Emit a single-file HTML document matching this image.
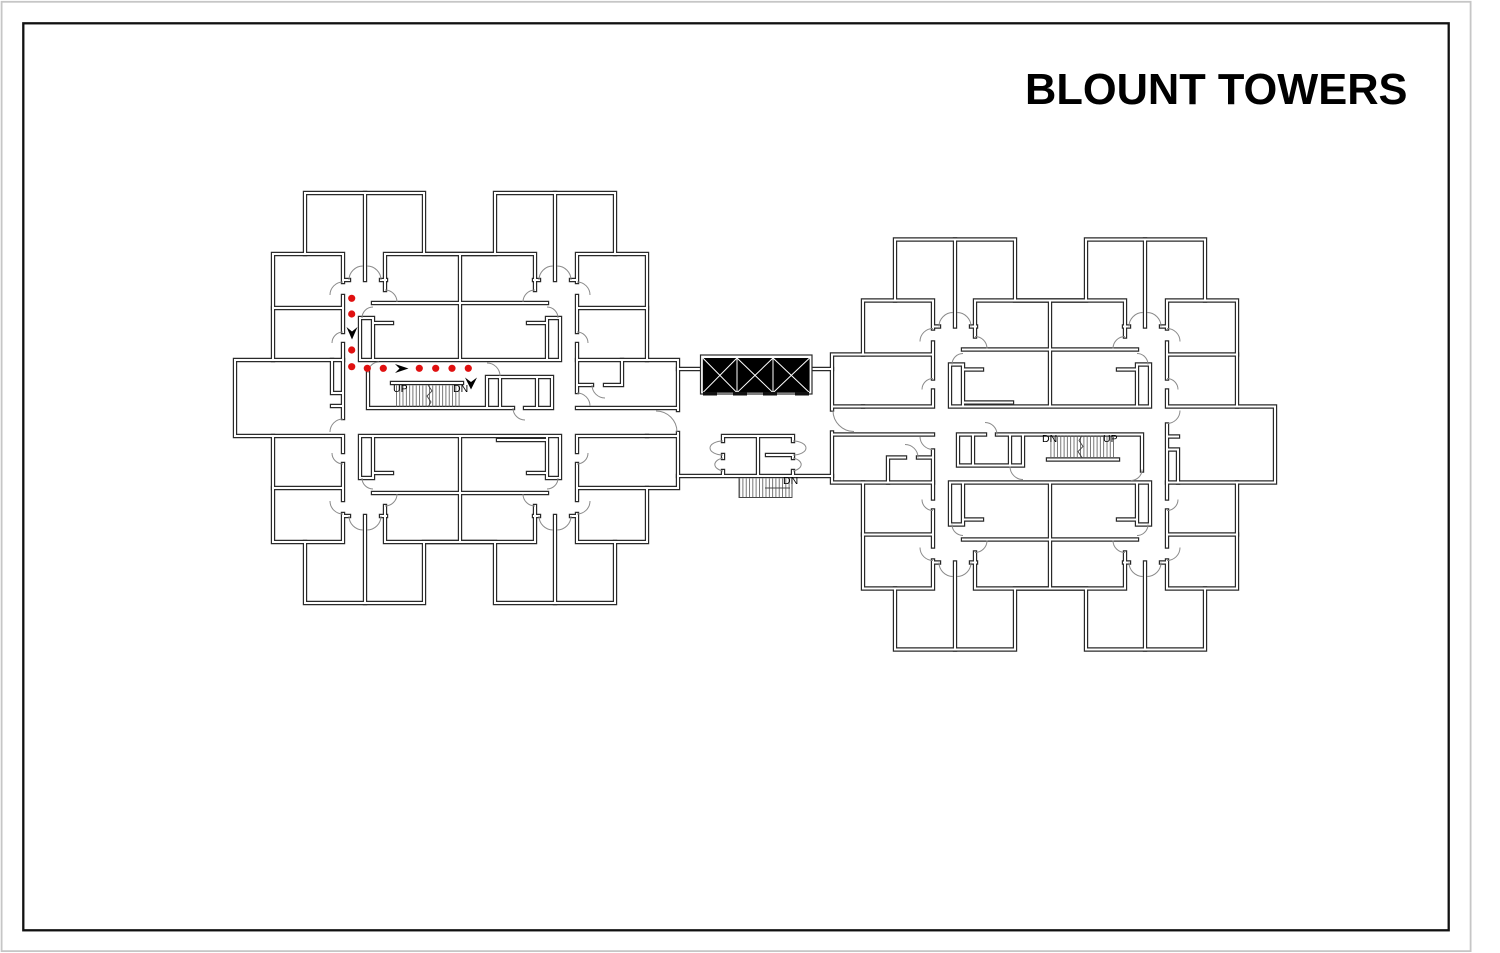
<!DOCTYPE html>
<html>
<head>
<meta charset="utf-8">
<style>
  html,body{margin:0;padding:0;background:#fff;width:1500px;height:953px;overflow:hidden;}
  svg{display:block;}
  .dk{fill:none;stroke:#2a2a2a;stroke-width:4.4;stroke-linecap:square;stroke-linejoin:miter;}
  .wh{fill:none;stroke:#fff;stroke-width:2;stroke-linecap:square;stroke-linejoin:miter;}
  .dr{fill:none;stroke:#8a8a8a;stroke-width:1;}
  .tn{fill:none;stroke:#444;stroke-width:0.9;}
  .lbl{font-family:"Liberation Sans",Arial,sans-serif;font-size:10.5px;fill:#000;}
</style>
</head>
<body>
<svg width="1500" height="953" viewBox="0 0 1500 953" xmlns="http://www.w3.org/2000/svg">
<defs>
  <pattern id="tr" width="3.3" height="40" patternUnits="userSpaceOnUse">
    <rect x="0" y="0" width="0.8" height="40" fill="#555"/>
  </pattern>
  <path id="T" d="M365,193V280 M555,193V280 M343,280H349 M381,280H386 M534,280H539 M571,280H577
    M305,254H343 M577,254H615
    M343,254V282 M343,296V332 M343,344V360
    M577,254V282 M577,296V332 M577,344V360
    M273,308H343 M577,308H647 M273,360H343 M577,360H647
    M385,254H535 M385,254V290 M535,254V290 M460,254V303
    M373,303H547 M360,318V360 M360,318H373 M373,318V360
    M560,318V360 M547,318H560 M547,318V360
    M373,323H392 M528,323H547 M360,360H560 M460,303V360"/>
  <path id="Cw" d="M678,433V488H647V542H615V603H495V542H424V603H305V542H273V436H235V360H273V254H305V193H424V254H495V193H615V254H647V360H678V410
    M343,360V418 M332,360V393H343 M332,406H343
    M577,360V392 M622,360V385 M577,385H592 M605,385H622 M577,408H678 M647,436H678
    M368,372V408 M368,408H513 M525,408H552 M552,377V408 M487,377H552 M487,377V408 M500,377V408 M537,377V408
    M392,383H462 M498,440H545"/>
  <g id="W">
    <use href="#T"/>
    <use href="#T" transform="matrix(1,0,0,-1,0,796)"/>
    <use href="#Cw"/>
  </g>
  <path id="Dt" d="M349,280A14,14 0 0 1 363,266 M367,266A14,14 0 0 1 381,280
    M539,280A14,14 0 0 1 553,266 M557,266A14,14 0 0 1 571,280
    M343,282A13,13 0 0 0 330,295 M343,332A11,11 0 0 0 332,343
    M577,282A13,13 0 0 1 590,295 M577,332A11,11 0 0 1 588,343
    M385,290A12,12 0 0 1 397,302 M535,290A12,12 0 0 0 523,302
    M362,318A11,11 0 0 1 373,307 M558,318A11,11 0 0 0 547,307"/>
  <path id="Dc" d="M343,419A13,13 0 0 0 330,432 M577,393A13,13 0 0 1 590,406
    M592,385A13,13 0 0 0 605,398 M513,408A12,12 0 0 0 525,420
    M368,373A11,11 0 0 1 379,362 M487,363A13,13 0 0 1 500,376
    M656,411A21,21 0 0 1 677,432"/>
  <g id="D">
    <use href="#Dt"/>
    <use href="#Dt" transform="matrix(1,0,0,-1,0,796)"/>
    <use href="#Dc"/>
  </g>
  <g id="S">
    <rect x="396" y="385.5" width="66" height="21.5" fill="url(#tr)"/>
    <path class="tn" d="M428,385 l4,6 -5,5 4,6 -3,5"/>
  </g>
  <path id="B" d="M678,369H701 M811,369H832 M678,476H832
    M723,436H793 M723,436V441 M723,455V458 M723,471V476
    M793,436V441 M793,455V458 M793,471V476 M758,436V476 M767,455H793"/>
</defs>

<!-- frame -->
<rect x="1.6" y="1.8" width="1469" height="949.3" fill="none" stroke="#c6c6c6" stroke-width="1.8"/>
<rect x="23.3" y="23.3" width="1425.4" height="907" fill="none" stroke="#111" stroke-width="2.3"/>

<text x="1025" y="104" font-family="Liberation Sans, Arial, sans-serif" font-weight="bold" font-size="43.4" fill="#000">BLOUNT TOWERS</text>

<!-- walls dark layer -->
<use href="#W" class="dk"/>
<use href="#W" class="dk" transform="translate(1510,842.5) rotate(180)"/>
<use href="#B" class="dk"/>
<!-- walls white layer -->
<use href="#W" class="wh"/>
<use href="#W" class="wh" transform="translate(1510,842.5) rotate(180)"/>
<use href="#B" class="wh"/>

<!-- doors -->
<use href="#D" class="dr"/>
<use href="#D" class="dr" transform="translate(1510,842.5) rotate(180)"/>
<path class="dr" d="M723,441A13,7 0 0 0 723,455 M723,458A13,7 0 0 0 723,471 M793,441A13,7 0 0 1 793,455 M793,458A13,7 0 0 1 793,471"/>

<!-- stairs -->
<use href="#S"/>
<use href="#S" transform="translate(1510,842.5) rotate(180)"/>
<rect x="739" y="478.5" width="53" height="19" fill="url(#tr)"/>
<path class="tn" d="M739,478V497.5H792V478 M765,488H790"/>

<!-- elevators -->
<rect x="700.5" y="355" width="111.5" height="39" fill="#fff" stroke="#2a2a2a" stroke-width="1.2"/>
<rect x="702.8" y="358" width="106.8" height="34.7" fill="#000"/>
<path d="M737,358V392.7 M773,358V392.7 M702.8,358L737,392.7 M737,358L702.8,392.7 M737,358L773,392.7 M773,358L737,392.7 M773,358L809.6,392.7 M809.6,358L773,392.7" stroke="#fff" stroke-width="1" fill="none"/>
<rect x="703" y="392" width="14" height="3.5" fill="#111"/>
<rect x="733" y="392" width="14" height="3.5" fill="#111"/>
<rect x="763" y="392" width="14" height="3.5" fill="#111"/>
<rect x="795" y="392" width="14" height="3.5" fill="#111"/>

<!-- labels -->
<text class="lbl" x="393" y="392">UP</text>
<text class="lbl" x="453" y="392">DN</text>
<text class="lbl" x="1042" y="442">DN</text>
<text class="lbl" x="1103" y="442">UP</text>
<text class="lbl" x="783" y="484">DN</text>

<!-- route -->
<g fill="#e01010">
  <circle cx="351.7" cy="298.3" r="3.6"/>
  <circle cx="351.7" cy="314" r="3.6"/>
  <circle cx="351.7" cy="350" r="3.6"/>
  <circle cx="351.7" cy="366.7" r="3.6"/>
  <circle cx="367.3" cy="368.3" r="3.6"/>
  <circle cx="383.3" cy="368.3" r="3.6"/>
  <circle cx="419.3" cy="368.3" r="3.6"/>
  <circle cx="435.7" cy="368.3" r="3.6"/>
  <circle cx="452" cy="368.3" r="3.6"/>
  <circle cx="468.3" cy="368.3" r="3.6"/>
</g>
<g fill="#000">
  <polygon points="346.5,327 352,331.5 357.5,327 352,339.5"/>
  <polygon points="395,364 408.5,368.5 395,373 399.5,368.5"/>
  <polygon points="465,377.5 471,382 477,377.5 471,389.5"/>
</g>
</svg>
</body>
</html>
